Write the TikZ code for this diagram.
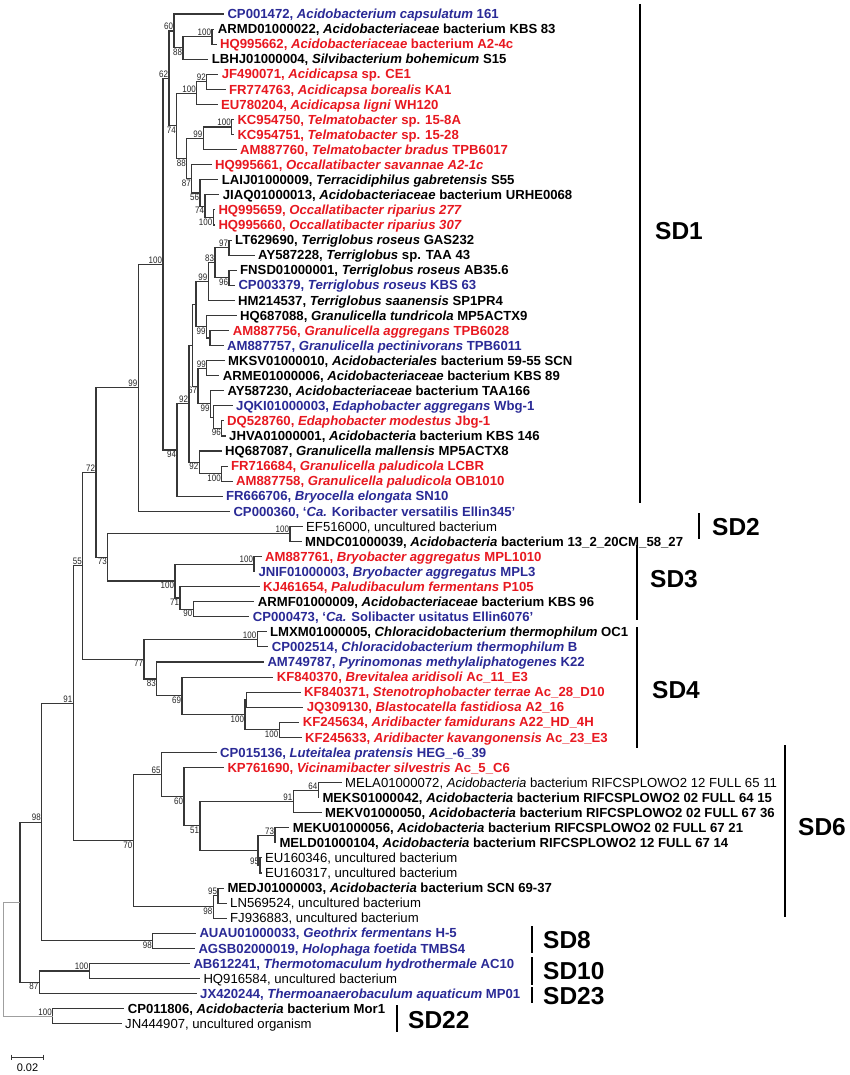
\documentclass[tikz,border=0pt]{standalone}
\usepackage{fontspec}
\setmainfont{Liberation Sans}
\newfontfamily\bsfont[FakeStretch=0.85]{Liberation Sans}
\definecolor{leafred}{RGB}{232,24,32}
\definecolor{leafblue}{RGB}{42,42,150}
\definecolor{treegray}{RGB}{55,55,55}
\tikzset{
  lf/.style={anchor=west, inner xsep=3.3pt, inner ysep=0pt, text height=9.4pt, text depth=0pt, font=\fontsize{13.15}{14}\selectfont},
  lfbold/.style={lf, font=\fontsize{13.15}{14}\selectfont\bfseries},
  lfred/.style={lfbold, text=leafred},
  lfblue/.style={lfbold, text=leafblue},
  branch/.style={draw=treegray, line width=1.1pt},
  bs/.style={font=\bsfont\fontsize{9.4}{10}\selectfont, inner sep=0.8pt, text=black!85},
  bsup/.style={bs, anchor=south east},
  bsdn/.style={bs, anchor=north east},
  sdbar/.style={line width=2.7pt, black},
  sdname/.style={anchor=west, inner sep=0pt, font=\fontsize{24.5}{25}\selectfont\bfseries}
}

\begin{document}
\begin{tikzpicture}[x=1pt, y=-15.07pt]
  \fill[white] (0pt,0pt) rectangle (850pt,-1075pt);
  \useasboundingbox (0pt,0pt) rectangle (850pt,-1075pt);

  \begin{scope}[yshift=1.07pt]
  % Leaves
  \node[lfblue] (l1) at (224,1) {CP001472, \textit{Acidobacterium capsulatum} 161};
  \node[lfbold] (l2) at (214.4,2) {ARMD01000022, \textit{Acidobacteriaceae} bacterium KBS 83};
  \node[lfred] (l3) at (216.7,3) {HQ995662, \textit{Acidobacteriaceae} bacterium A2-4c};
  \node[lfbold] (l4) at (208.4,4) {LBHJ01000004, \textit{Silvibacterium bohemicum} S15};
  \node[lfred] (l5) at (218.4,5) {JF490071, \textit{Acidicapsa} sp. CE1};
  \node[lfred] (l6) at (225.7,6) {FR774763, \textit{Acidicapsa borealis} KA1};
  \node[lfred] (l7) at (217.7,7) {EU780204, \textit{Acidicapsa ligni} WH120};
  \node[lfred] (l8) at (234,8) {KC954750, \textit{Telmatobacter} sp. 15-8A};
  \node[lfred] (l9) at (234,9) {KC954751, \textit{Telmatobacter} sp. 15-28};
  \node[lfred] (l10) at (236.7,10) {AM887760, \textit{Telmatobacter bradus} TPB6017};
  \node[lfred] (l11) at (211.7,11) {HQ995661, \textit{Occallatibacter savannae A2-1c}};
  \node[lfbold] (l12) at (218.4,12) {LAIJ01000009, \textit{Terracidiphilus gabretensis} S55};
  \node[lfbold] (l13) at (219.4,13) {JIAQ01000013, \textit{Acidobacteriaceae} bacterium URHE0068};
  \node[lfred] (l14) at (215,14) {HQ995659, \textit{Occallatibacter riparius 277}};
  \node[lfred] (l15) at (215,15) {HQ995660, \textit{Occallatibacter riparius 307}};
  \node[lfbold] (l16) at (231.7,16) {LT629690, \textit{Terriglobus roseus} GAS232};
  \node[lfbold] (l17) at (254.7,17) {AY587228, \textit{Terriglobus} sp. TAA 43};
  \node[lfbold] (l18) at (236.7,18) {FNSD01000001, \textit{Terriglobus roseus} AB35.6};
  \node[lfblue] (l19) at (235,19) {CP003379, \textit{Terriglobus roseus} KBS 63};
  \node[lfbold] (l20) at (234.7,20) {HM214537, \textit{Terriglobus saanensis} SP1PR4};
  \node[lfbold] (l21) at (236.7,21) {HQ687088, \textit{Granulicella tundricola} MP5ACTX9};
  \node[lfred] (l22) at (229.4,22) {AM887756, \textit{Granulicella aggregans} TPB6028};
  \node[lfblue] (l23) at (223.7,23) {AM887757, \textit{Granulicella pectinivorans} TPB6011};
  \node[lfbold] (l24) at (224.7,24) {MKSV01000010, \textit{Acidobacteriales} bacterium 59-55 SCN};
  \node[lfbold] (l25) at (219.4,25) {ARME01000006, \textit{Acidobacteriaceae} bacterium KBS 89};
  \node[lfbold] (l26) at (224,26) {AY587230, \textit{Acidobacteriaceae} bacterium TAA166};
  \node[lfblue] (l27) at (232.7,27) {JQKI01000003, \textit{Edaphobacter aggregans} Wbg-1};
  \node[lfred] (l28) at (223.7,28) {DQ528760, \textit{Edaphobacter modestus} Jbg-1};
  \node[lfbold] (l29) at (225.7,29) {JHVA01000001, \textit{Acidobacteria} bacterium KBS 146};
  \node[lfbold] (l30) at (221.7,30) {HQ687087, \textit{Granulicella mallensis} MP5ACTX8};
  \node[lfred] (l31) at (227.7,31) {FR716684, \textit{Granulicella paludicola} LCBR};
  \node[lfred] (l32) at (232.7,32) {AM887758, \textit{Granulicella paludicola} OB1010};
  \node[lfblue] (l33) at (222.7,33) {FR666706, \textit{Bryocella elongata} SN10};
  \node[lfblue] (l34) at (230,34) {CP000360, ‘\textit{Ca.} Koribacter versatilis Ellin345’};
  \node[lf] (l35) at (302.7,35) {EF516000, uncultured bacterium};
  \node[lfbold] (l36) at (301.7,36) {MNDC01000039, \textit{Acidobacteria} bacterium 13\_2\_20CM\_58\_27};
  \node[lfred] (l37) at (261.7,37) {AM887761, \textit{Bryobacter aggregatus} MPL1010};
  \node[lfblue] (l38) at (255,38) {JNIF01000003, \textit{Bryobacter aggregatus} MPL3};
  \node[lfred] (l39) at (259.7,39) {KJ461654, \textit{Paludibaculum fermentans} P105};
  \node[lfbold] (l40) at (254.4,40) {ARMF01000009, \textit{Acidobacteriaceae} bacterium KBS 96};
  \node[lfblue] (l41) at (249.4,41) {CP000473, ‘\textit{Ca.} Solibacter usitatus Ellin6076’};
  \node[lfbold] (l42) at (266.7,42) {LMXM01000005, \textit{Chloracidobacterium thermophilum} OC1};
  \node[lfblue] (l43) at (268.4,43) {CP002514, \textit{Chloracidobacterium thermophilum} B};
  \node[lfblue] (l44) at (264,44) {AM749787, \textit{Pyrinomonas methylaliphatogenes} K22};
  \node[lfred] (l45) at (273.4,45) {KF840370, \textit{Brevitalea aridisoli} Ac\_11\_E3};
  \node[lfred] (l46) at (300.7,46) {KF840371, \textit{Stenotrophobacter terrae} Ac\_28\_D10};
  \node[lfred] (l47) at (303.4,47) {JQ309130, \textit{Blastocatella fastidiosa} A2\_16};
  \node[lfred] (l48) at (299.4,48) {KF245634, \textit{Aridibacter famidurans} A22\_HD\_4H};
  \node[lfred] (l49) at (301.7,49) {KF245633, \textit{Aridibacter kavangonensis} Ac\_23\_E3};
  \node[lfblue] (l50) at (216.7,50) {CP015136, \textit{Luteitalea pratensis} HEG\_-6\_39};
  \node[lfred] (l51) at (224,51) {KP761690, \textit{Vicinamibacter silvestris} Ac\_5\_C6};
  \node[lf] (l52) at (341.7,52) {MELA01000072, \textit{Acidobacteria} bacterium RIFCSPLOWO2 12 FULL 65 11};
  \node[lfbold] (l53) at (319,53) {MEKS01000042, \textit{Acidobacteria} bacterium RIFCSPLOWO2 02 FULL 64 15};
  \node[lfbold] (l54) at (321.7,54) {MEKV01000050, \textit{Acidobacteria} bacterium RIFCSPLOWO2 02 FULL 67 36};
  \node[lfbold] (l55) at (289.4,55) {MEKU01000056, \textit{Acidobacteria} bacterium RIFCSPLOWO2 02 FULL 67 21};
  \node[lfbold] (l56) at (276,56) {MELD01000104, \textit{Acidobacteria} bacterium RIFCSPLOWO2 12 FULL 67 14};
  \node[lf] (l57) at (261.7,57) {EU160346, uncultured bacterium};
  \node[lf] (l58) at (261.7,58) {EU160317, uncultured bacterium};
  \node[lfbold] (l59) at (224,59) {MEDJ01000003, \textit{Acidobacteria} bacterium SCN 69-37};
  \node[lf] (l60) at (226.7,60) {LN569524, uncultured bacterium};
  \node[lf] (l61) at (226.7,61) {FJ936883, uncultured bacterium};
  \node[lfblue] (l62) at (196,62) {AUAU01000033, \textit{Geothrix fermentans} H-5};
  \node[lfblue] (l63) at (195,63) {AGSB02000019, \textit{Holophaga foetida} TMBS4};
  \node[lfblue] (l64) at (190,64) {AB612241, \textit{Thermotomaculum hydrothermale} AC10};
  \node[lf] (l65) at (200,65) {HQ916584, uncultured bacterium};
  \node[lfblue] (l66) at (196.7,66) {JX420244, \textit{Thermoanaerobaculum aquaticum} MP01};
  \node[lfbold] (l67) at (124.4,67) {CP011806, \textit{Acidobacteria} bacterium Mor1};
  \node[lf] (l68) at (121.7,68) {JN444907, uncultured organism};

  % SD1, upper part
  \coordinate (nA100) at (212,2.5);     \node[bsup] (bA100) at (nA100) {100};
  \coordinate (nA88) at (183,3.25);     \node[bsdn] (bA88) at (nA88) {88};
  \coordinate (nA60) at (174,2.125);    \node[bsup] (bA60) at (nA60) {60};
  \coordinate (nC92) at (206.7,5.5);    \node[bsup] (bC92) at (nC92) {92};
  \coordinate (nC100) at (196.7,6.25);  \node[bsup] (bC100) at (nC100) {100};
  \coordinate (nT100) at (231.7,8.5);   \node[bsup] (bT100) at (nT100) {100};
  \coordinate (nT99) at (203.3,9.25);   \node[bsup] (bT99) at (nT99) {99};
  \coordinate (nO100) at (213.3,14.5);  \node[bsdn] (bO100) at (nO100) {100};
  \coordinate (nO74) at (205,13.75);    \node[bsdn] (bO74) at (nO74) {74};
  \coordinate (nO56) at (200,12.875);   \node[bsdn] (bO56) at (nO56) {56};
  \coordinate (nO87) at (191.7,11.94);  \node[bsdn] (bO87) at (nO87) {87};
  \coordinate (nB88) at (186.7,10.594); \node[bsdn] (bB88) at (nB88) {88};
  \coordinate (nB74) at (176.7,8.422);  \node[bsdn] (bB74) at (nB74) {74};
  \coordinate (nS62) at (169,5.273);    \node[bsup] (bS62) at (nS62) {62};
  \draw[branch] (nA100) |- (l2.west) (nA100) |- (l3.west)
                (nA88) |- (nA100) (nA88) |- (l4.west)
                (nA60) |- (l1.west) (nA60) |- (nA88)
                (nC92) |- (l5.west) (nC92) |- (l6.west)
                (nC100) |- (nC92) (nC100) |- (l7.west)
                (nT100) |- (l8.west) (nT100) |- (l9.west)
                (nT99) |- (nT100) (nT99) |- (l10.west)
                (nO100) |- (l14.west) (nO100) |- (l15.west)
                (nO74) |- (l13.west) (nO74) |- (nO100)
                (nO56) |- (l12.west) (nO56) |- (nO74)
                (nO87) |- (l11.west) (nO87) |- (nO56)
                (nB88) |- (nT99) (nB88) |- (nO87)
                (nB74) |- (nC100) (nB74) |- (nB88)
                (nS62) |- (nA60) (nS62) |- (nB74);

  % SD1, lower part
  \coordinate (nR97) at (229,16.5);     \node[bsup] (bR97) at (nR97) {97};
  \coordinate (nR96) at (229,18.5);     \node[bsdn] (bR96) at (nR96) {96};
  \coordinate (nR83) at (215,17.5);     \node[bsup] (bR83) at (nR83) {83};
  \coordinate (nR99) at (208.3,18.75);  \node[bsup] (bR99) at (nR99) {99};
  \coordinate (nG0) at (210,22.5);
  \coordinate (nG99) at (206.5,21.75);  \node[bsdn] (bG99) at (nG99) {99};
  \coordinate (nX) at (196,20.25);
  \coordinate (nM99) at (206.7,24.5);   \node[bsup] (bM99) at (nM99) {99};
  \coordinate (nE96) at (221.7,28.5);   \node[bsdn] (bE96) at (nE96) {96};
  \coordinate (nE99) at (213.3,27.75);
  \coordinate (nAY) at (210.5,26.875);  \node[bsdn] (bAY) at (nAY) {99};
  \coordinate (nE67) at (198,25.69);    \node[bsdn] (bE67) at (nE67) {67};
  \coordinate (nY) at (192.5,22.97);
  \coordinate (nP100) at (221.7,31.5);  \node[bsdn] (bP100) at (nP100) {100};
  \coordinate (nP92) at (199.3,30.75);  \node[bsdn] (bP92) at (nP92) {92};
  \coordinate (nQ92) at (189,26.86);    \node[bsup] (bQ92) at (nQ92) {92};
  \coordinate (nQ94) at (177,29.93);    \node[bsdn] (bQ94) at (nQ94) {94};
  \coordinate (nSD1) at (163,17.6);     \node[bsup] (bSD1) at (nSD1) {100};
  \draw[branch] (nR97) |- (l16.west) (nR97) |- (l17.west)
                (nR96) |- (l18.west) (nR96) |- (l19.west)
                (nR83) |- (nR97) (nR83) |- (nR96)
                (nR99) |- (nR83) (nR99) |- (l20.west)
                (nG0) |- (l22.west) (nG0) |- (l23.west)
                (nG99) |- (l21.west) (nG99) |- (nG0)
                (nX) |- (nR99) (nX) |- (nG99)
                (nM99) |- (l24.west) (nM99) |- (l25.west)
                (nE96) |- (l28.west) (nE96) |- (l29.west)
                (nE99) |- (l27.west) (nE99) |- (nE96)
                (nAY) |- (l26.west) (nAY) |- (nE99)
                (nE67) |- (nM99) (nE67) |- (nAY)
                (nY) |- (nX) (nY) |- (nE67)
                (nP100) |- (l31.west) (nP100) |- (l32.west)
                (nP92) |- (l30.west) (nP92) |- (nP100)
                (nQ92) |- (nY) (nQ92) |- (nP92)
                (nQ94) |- (nQ92) (nQ94) |- (l33.west)
                (nSD1) |- (nS62) (nSD1) |- (nQ94);

  % SD2, SD3
  \coordinate (nK99) at (138.3,25.8);   \node[bsup] (bK99) at (nK99) {99};
  \coordinate (nK100) at (290,35.5);    \node[bsup] (bK100) at (nK100) {100};
  \coordinate (nB100) at (254,37.5);    \node[bsup] (bB100) at (nB100) {100};
  \coordinate (nB90) at (193.3,40.5);   \node[bsdn] (bB90) at (nB90) {90};
  \coordinate (nB71) at (180,39.75);    \node[bsdn] (bB71) at (nB71) {71};
  \coordinate (nSD3) at (175,38.625);   \node[bsdn] (bSD3) at (nSD3) {100};
  \coordinate (nK73) at (107.7,37.06);  \node[bsdn] (bK73) at (nK73) {73};
  \coordinate (nK72) at (96,31.43);     \node[bsup] (bK72) at (nK72) {72};
  \draw[branch] (nK99) |- (nSD1) (nK99) |- (l34.west)
                (nK100) |- (l35.west) (nK100) |- (l36.west)
                (nB100) |- (l37.west) (nB100) |- (l38.west)
                (nB90) |- (l40.west) (nB90) |- (l41.west)
                (nB71) |- (l39.west) (nB71) |- (nB90)
                (nSD3) |- (nB100) (nSD3) |- (nB71)
                (nK73) |- (nK100) (nK73) |- (nSD3)
                (nK72) |- (nK99) (nK72) |- (nK73);

  % SD4
  \coordinate (nD100) at (257.3,42.5);  \node[bsup] (bD100) at (nD100) {100};
  \coordinate (nD100b) at (279.3,48.5); \node[bsdn] (bD100b) at (nD100b) {100};
  \coordinate (nDj) at (246.5,46.5);
  \coordinate (nD100c) at (245,47.5);   \node[bsdn] (bD100c) at (nD100c) {100};
  \coordinate (nD69) at (182,46.25);    \node[bsdn] (bD69) at (nD69) {69};
  \coordinate (nD83) at (156.7,45.125); \node[bsdn] (bD83) at (nD83) {83};
  \coordinate (nD77) at (144,43.81);    \node[bsdn] (bD77) at (nD77) {77};
  \coordinate (nK55) at (82.7,37.62);   \node[bsup] (bK55) at (nK55) {55};
  \draw[branch] (nD100) |- (l42.west) (nD100) |- (l43.west)
                (nD100b) |- (l48.west) (nD100b) |- (l49.west)
                (nDj) |- (l46.west) (nDj) |- (l47.west)
                (nD100c) |- (nDj) (nD100c) |- (nD100b)
                (nD69) |- (l45.west) (nD69) |- (nD100c)
                (nD83) |- (l44.west) (nD83) |- (nD69)
                (nD77) |- (nD100) (nD77) |- (nD83)
                (nK55) |- (nK72) (nK55) |- (nD77);

  % SD6
  \coordinate (nF64) at (318.3,52.5);   \node[bsup] (bF64) at (nF64) {64};
  \coordinate (nF91) at (293.3,53.25);  \node[bsup] (bF91) at (nF91) {91};
  \coordinate (nF73) at (275,55.5);     \node[bsup] (bF73) at (nF73) {73};
  \coordinate (nF95) at (260,57.5);     \node[bsup] (bF95) at (nF95) {95};
  \coordinate (nFz) at (258,56.5);
  \coordinate (nF51) at (200,54.875);   \node[bsdn] (bF51) at (nF51) {51};
  \coordinate (nF60) at (184,52.94);    \node[bsdn] (bF60) at (nF60) {60};
  \coordinate (nF65) at (161.5,51.47);  \node[bsup] (bF65) at (nF65) {65};
  \coordinate (nH95) at (218,59.5);     \node[bsup] (bH95) at (nH95) {95};
  \coordinate (nH98) at (213.3,60.25);  \node[bsdn] (bH98) at (nH98) {98};
  \coordinate (nF70) at (133.3,55.86);  \node[bsdn] (bF70) at (nF70) {70};
  \coordinate (nK91) at (73.3,46.74);   \node[bsup] (bK91) at (nK91) {91};
  \draw[branch] (nF64) |- (l52.west) (nF64) |- (l53.west)
                (nF91) |- (nF64) (nF91) |- (l54.west)
                (nF73) |- (l55.west) (nF73) |- (l56.west)
                (nF95) |- (l57.west) (nF95) |- (l58.west)
                (nFz) |- (nF73) (nFz) |- (nF95)
                (nF51) |- (nF91) (nF51) |- (nFz)
                (nF60) |- (l51.west) (nF60) |- (nF51)
                (nF65) |- (l50.west) (nF65) |- (nF60)
                (nH95) |- (l59.west) (nH95) |- (l60.west)
                (nH98) |- (nH95) (nH98) |- (l61.west)
                (nF70) |- (nF65) (nF70) |- (nH98)
                (nK91) |- (nK55) (nK91) |- (nF70);

  % SD8, SD10, SD23, SD22 and root
  \coordinate (nJ98) at (152.7,62.5);   \node[bsdn] (bJ98) at (nJ98) {98};
  \coordinate (nW98) at (41.7,54.62);   \node[bsup] (bW98) at (nW98) {98};
  \coordinate (nL100) at (89.3,64.5);   \node[bsup] (bL100) at (nL100) {100};
  \coordinate (nL87) at (39.3,65.25);   \node[bsdn] (bL87) at (nL87) {87};
  \coordinate (nW0) at (20,59.935);
  \coordinate (nZ100) at (52.7,67.5);   \node[bsup] (bZ100) at (nZ100) {100};
  \coordinate (nRoot) at (3.3,63.72);
  \draw[branch] (nJ98) |- (l62.west) (nJ98) |- (l63.west)
                (nW98) |- (nK91) (nW98) |- (nJ98)
                (nL100) |- (l64.west) (nL100) |- (l65.west)
                (nL87) |- (nL100) (nL87) |- (l66.west)
                (nW0) |- (nW98) (nW0) |- (nL87)
                (nZ100) |- (l67.west) (nZ100) |- (l68.west);
  \draw[branch, draw=gray!75, line width=0.8pt] (nRoot) |- (nW0) (nRoot) |- (nZ100);
  \end{scope}

  % Subdivisions
  \draw[sdbar] (640pt,-4pt) -- (640pt,-503pt);
  \node[sdname] (sd1) at (655pt,-231pt) {SD1};
  \draw[sdbar] (699pt,-513pt) -- (699pt,-539pt);
  \node[sdname] (sd2) at (712pt,-527pt) {SD2};
  \draw[sdbar] (637pt,-545pt) -- (637pt,-620pt);
  \node[sdname] (sd3) at (650pt,-579pt) {SD3};
  \draw[sdbar] (637pt,-627pt) -- (637pt,-748pt);
  \node[sdname] (sd4) at (652pt,-690pt) {SD4};
  \draw[sdbar] (785pt,-745pt) -- (785pt,-917pt);
  \node[sdname] (sd6) at (798pt,-827pt) {SD6};
  \draw[sdbar] (532pt,-926pt) -- (532pt,-953pt);
  \node[sdname] (sd8) at (543pt,-940pt) {SD8};
  \draw[sdbar] (532pt,-957pt) -- (532pt,-985pt);
  \node[sdname] (sd10) at (543pt,-971pt) {SD10};
  \draw[sdbar] (532pt,-987pt) -- (532pt,-1003pt);
  \node[sdname] (sd23) at (543pt,-996pt) {SD23};
  \draw[sdbar] (397pt,-1005pt) -- (397pt,-1032pt);
  \node[sdname] (sd22) at (408pt,-1020pt) {SD22};

  % Scale bar
  \coordinate (sbl) at (11.7pt,-1057pt);
  \coordinate (sbr) at (43.3pt,-1057pt);
  \draw[branch, line width=0.9pt] (sbl) -- (sbr)
    ([yshift=2.5pt]sbl) -- ([yshift=-2.5pt]sbl) ([yshift=2.5pt]sbr) -- ([yshift=-2.5pt]sbr);
  \node[font=\fontsize{11}{11}\selectfont, inner sep=0pt] (sbtext) at (27.5pt,-1068pt) {0.02};
\end{tikzpicture}
\end{document}
